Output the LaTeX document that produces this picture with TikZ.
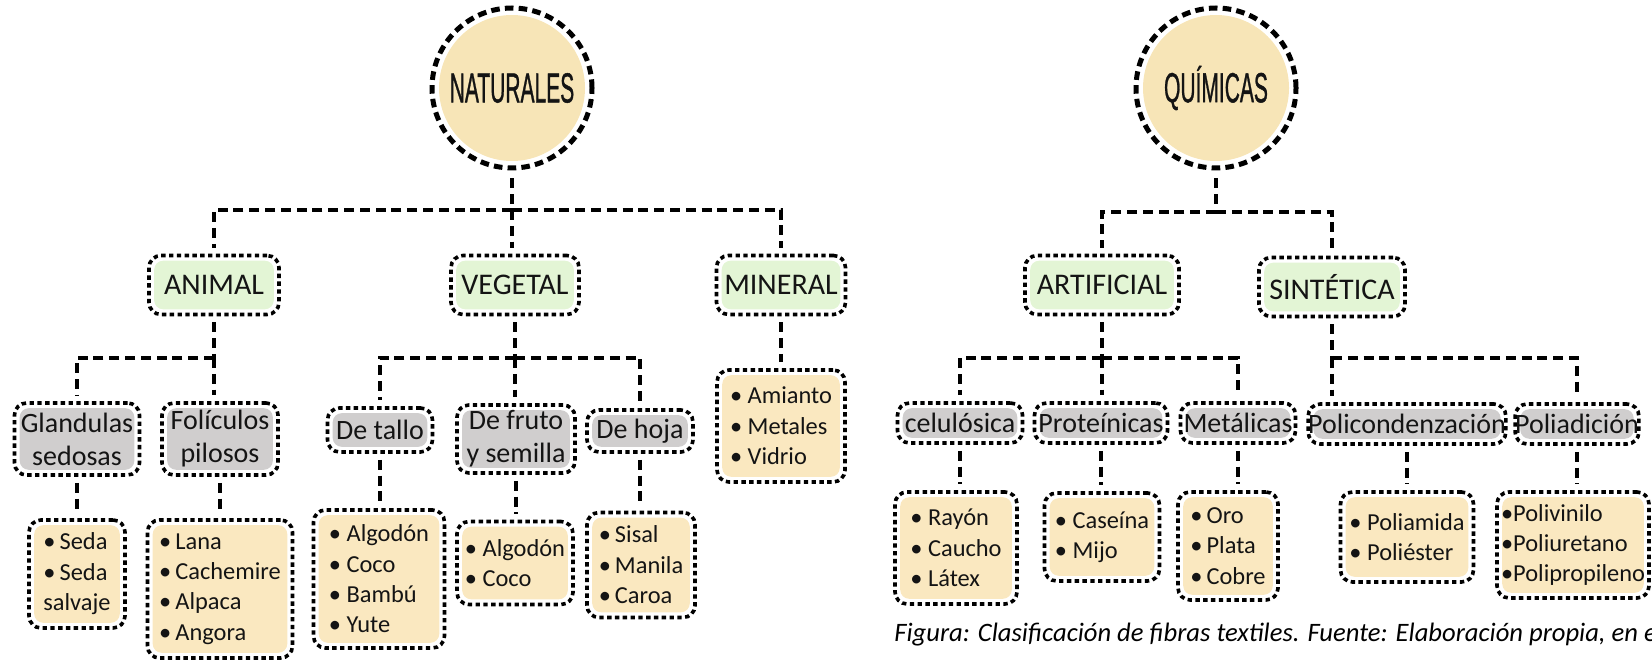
\documentclass[tikz,border=0pt]{standalone}
\usepackage{fontspec}
\usepackage{graphicx}
\setmainfont{Carlito}
\newfontfamily\headfont[FakeBold=1.2]{Liberation Sans}
\usetikzlibrary{shapes.geometric,calc}
\definecolor{circfill}{HTML}{F7E5B7}
\definecolor{greenfill}{HTML}{E3F5D5}
\definecolor{greyfill}{HTML}{D0CECE}
\definecolor{itemfill}{HTML}{FAE8C0}
\newcommand{\roottext}[1]{{\headfont\fontsize{21}{21}\selectfont\scalebox{0.5}[1]{#1}}}
\begin{document}
\begin{tikzpicture}[x=0.5pt,y=-0.5pt,
  dotbox/.style={rectangle, rounded corners=6pt, draw=black, line width=1.8pt,
    dash pattern=on 2.2pt off 1.7pt, inner sep=0pt, align=center, text=black!92,
    path picture={\fill[#1, rounded corners=4.5pt]
      ($(path picture bounding box.south west)+(2.6pt,2.6pt)$) rectangle
      ($(path picture bounding box.north east)-(2.6pt,2.6pt)$);}},
  sz/.style 2 args={minimum width=#1*0.5pt, minimum height=#2*0.5pt},
  family/.style={dotbox=greenfill, font=\fontsize{15}{18}\selectfont},
  kind/.style={dotbox=greyfill, font=\fontsize{14}{16.5}\selectfont},
  kindc/.style={dotbox=greyfill, font=\fontsize{14}{16.5}\selectfont},
  list/.style={dotbox=itemfill, font=\fontsize{12.2}{15.2}\selectfont, align=left},
  root/.style={circle, draw=black, line width=2.5pt, dash pattern=on 4.3pt off 2.6pt,
    minimum size=80pt, inner sep=0pt, text=black!92,
    path picture={\fill[circfill] (path picture bounding box.center) circle [radius=36.5pt];}},
  link/.style={draw=black, line width=1.6pt, dash pattern=on 5pt off 2.9pt},
]
\useasboundingbox (0,0) rectangle (1652,663);

% --- natural fibres ---
\node[root] (nat) at (512,88) {\roottext{NATURALES}};
\node[family, sz={130}{59}] (animal) at (214,285) {ANIMAL};
\node[family, sz={128}{59}] (vegetal) at (515,285) {VEGETAL};
\node[family, sz={129}{59}] (mineral) at (781,285) {MINERAL};

\node[kind, sz={125}{72}] (gland) at (77,439) {Glandulas\\sedosas};
\node[kind, sz={116}{72}] (foli) at (220,439) {Folículos\\pilosos};
\node[kind, sz={105}{44}] (tallo) at (380,430) {De tallo};
\node[kind, sz={118}{68}] (fruto) at (516,439) {De fruto\\y semilla};
\node[kind, sz={106}{42}] (hoja) at (640,431) {De hoja};

\node[list, sz={96}{108}] (seda) at (77,574) {•\,Seda\\•\,Seda\\salvaje};
\node[list, sz={145}{138}] (lana) at (220,589) {•\,Lana\\•\,Cachemire\\•\,Alpaca\\•\,Angora};
\node[list, sz={131}{138}] (tallolist) at (379,579) {• Algodón\\• Coco\\• Bambú\\• Yute};
\node[list, sz={116}{83}] (frutolist) at (515,563) {• Algodón\\• Coco};
\node[list, sz={108}{105}] (hojalist) at (641,565) {•\,Sisal\\•\,Manila\\•\,Caroa};
\node[list, sz={128}{112}] (minlist) at (781,426) {• Amianto\\• Metales\\• Vidrio};

% --- chemical fibres ---
\node[root] (qui) at (1216,88) {\roottext{QUÍMICAS}};
\node[family, sz={154}{59}] (artificial) at (1102,285) {ARTIFICIAL};
\node[family, sz={146}{59}] (sintetica) at (1332,287) {SINTÉTICA};

\node[kindc, sz={125}{40}] (celu) at (960,423) {celulósica};
\node[kindc, sz={133}{40}] (prot) at (1101,423) {Proteínicas};
\node[kindc, sz={115}{40}] (meta) at (1238,423) {Metálicas};
\node[kindc, sz={188}{40}] (polic) at (1407,424) {Policondenzación};
\node[kindc, sz={121}{40}] (polia) at (1577,424) {Poliadición};

\node[list, sz={122}{112}] (rayon) at (956,548) {• Rayón\\• Caucho\\• Látex};
\node[list, sz={115}{88}] (caseina) at (1102,537) {• Caseína\\• Mijo};
\node[list, sz={100}{108}] (oro) at (1228,546) {•\,Oro\\•\,Plata\\•\,Cobre};
\node[list, sz={133}{90}] (poliamida) at (1407,537) {• Poliamida\\• Poliéster};
\node[list, sz={152}{106}] (polivinilo) at (1573,545) {•Polivinilo\\•Poliuretano\\•Polipropileno};

\node[anchor=base west, inner sep=0pt, font=\itshape\fontsize{13.3}{16}\selectfont] (cap) at (894,641)
  {Figura: Clasificación de fibras textiles. Fuente: Elaboración propia, en el};

% --- connectors ---
\coordinate (nj) at (nat.south |- 0,210);
\draw[link, shorten <=4pt] (nat.south) -- (nj);
\draw[link, shorten >=3pt] (nj) -| (animal.north);
\draw[link, shorten >=3pt] (nj) -- (nj |- vegetal.north);
\draw[link, shorten >=3pt] (nj) -| (mineral.north);

\coordinate (aj) at (animal.south |- 0,358);
\draw[link, shorten <=3pt] (animal.south) -- (aj);
\draw[link, shorten >=3pt] (aj) -| (gland.north);
\draw[link, shorten >=3pt] (aj) -- (aj |- foli.north);

\coordinate (vj) at (vegetal.south |- 0,358);
\draw[link, shorten <=3pt] (vegetal.south) -- (vj);
\draw[link, shorten >=3pt] (vj) -| (tallo.north);
\draw[link, shorten >=3pt] (vj) -- (vj |- fruto.north);
\draw[link, shorten >=3pt] (vj) -| (hoja.north);

\draw[link, shorten <=3pt, shorten >=3pt] (mineral.south) -- (mineral.south |- minlist.north);

\coordinate (qj) at (qui.south |- 0,212);
\draw[link, shorten <=4pt] (qui.south) -- (qj);
\draw[link, shorten >=3pt] (qj) -| (artificial.north);
\draw[link, shorten >=3pt] (qj) -| (sintetica.north);

\coordinate (rj) at (artificial.south |- 0,358);
\draw[link, shorten <=3pt] (artificial.south) -- (rj);
\draw[link, shorten >=3pt] (rj) -| (celu.north);
\draw[link, shorten >=3pt] (rj) -- (rj |- prot.north);
\draw[link, shorten >=3pt] (rj) -| (meta.north);

\coordinate (sj) at (sintetica.south |- 0,358);
\draw[link, shorten <=3pt] (sintetica.south) -- (sj);
\draw[link, shorten >=3pt] (sj) -- (sj |- polic.north);
\draw[link, shorten >=3pt] (sj) -| (polia.north);

\foreach \a/\b in {gland/seda, foli/lana, tallo/tallolist, fruto/frutolist, hoja/hojalist,
                   celu/rayon, prot/caseina, meta/oro, polic/poliamida, polia/polivinilo}
  \draw[link, shorten <=3pt, shorten >=3pt] (\a.south) -- (\a.south |- \b.north);
\end{tikzpicture}
\end{document}
